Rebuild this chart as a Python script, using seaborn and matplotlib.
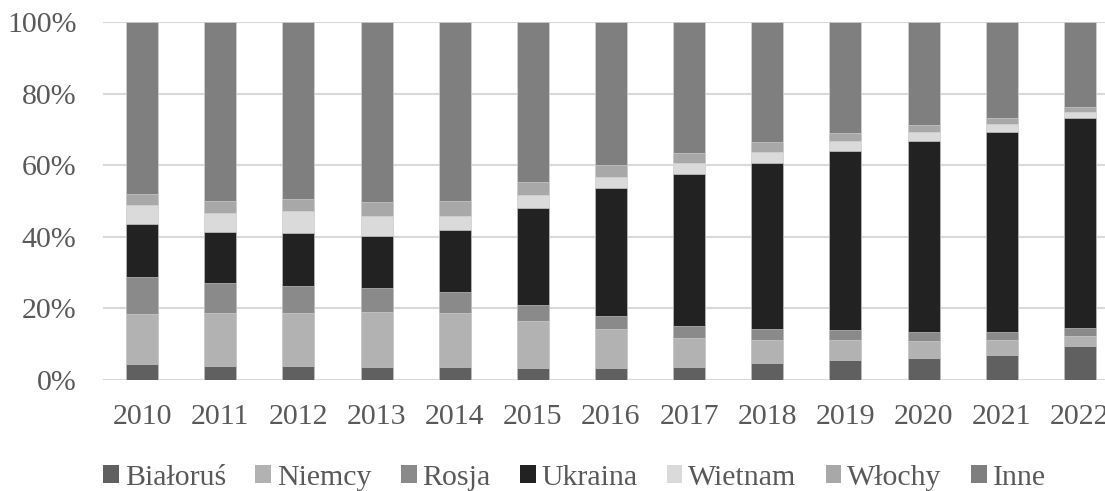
import matplotlib

matplotlib.use("Agg")
import matplotlib.pyplot as plt
import numpy as np
import pandas as pd
import seaborn as sns
from matplotlib.patches import Patch

years = [str(y) for y in range(2010, 2023)]
countries = ["Białoruś", "Niemcy", "Rosja", "Ukraina", "Wietnam", "Włochy", "Inne"]

# shares in percent
bialorus = [4.6, 4.0, 4.0, 3.7, 3.7, 3.4, 3.3, 3.7, 4.7, 5.6, 6.2, 7.0, 9.6]
niemcy = [13.9, 14.8, 14.8, 15.3, 15.1, 13.2, 10.9, 8.1, 6.5, 5.6, 4.8, 4.2, 2.7]
rosja = [10.4, 8.3, 7.5, 6.6, 5.8, 4.3, 3.7, 3.4, 3.0, 2.8, 2.5, 2.3, 2.2]
ukraina = [14.7, 14.3, 14.8, 14.7, 17.3, 27.2, 35.8, 42.3, 46.5, 50.1, 53.3, 55.9, 58.8]
wietnam = [5.3, 5.3, 6.2, 5.6, 4.0, 3.5, 3.0, 3.1, 3.1, 2.7, 2.6, 2.1, 1.6]
wlochy = [3.1, 3.4, 3.3, 3.8, 4.2, 3.8, 3.3, 2.8, 2.6, 2.3, 1.9, 1.8, 1.4]
inne = [48.0, 49.9, 49.4, 50.3, 49.9, 44.6, 40.0, 36.6, 33.6, 30.9, 28.7, 26.7, 23.7]

colors = ["#606060", "#b2b2b2", "#8a8a8a", "#222222", "#dadada", "#a8a8a8", "#7f7f7f"]
text_color = "#595959"

df = pd.DataFrame(
    dict(zip(countries, [bialorus, niemcy, rosja, ukraina, wietnam, wlochy, inne])),
    index=years,
)
cum = df.cumsum(axis=1)
cum = cum.div(cum["Inne"], axis=0) * 100

sns.set_style("white")
plt.rcParams["font.family"] = ["Liberation Serif", "DejaVu Serif"]

fig = plt.figure(figsize=(11.05, 4.91), dpi=100)
ax = fig.add_axes([103 / 1105, 111 / 491, 1016 / 1105, 358 / 491])

# stacked bars: draw cumulative totals from the top segment down
for name, color in reversed(list(zip(countries, colors))):
    sns.barplot(
        x=years, y=cum[name].values, color=color, width=0.41,
        edgecolor="#d8d8d8", linewidth=0.4, ax=ax, zorder=3,
    )

ax.set_ylim(0, 100)
ax.set_yticks(np.arange(0, 101, 20))
ax.set_yticklabels([f"{v}%" for v in range(0, 101, 20)])
ax.yaxis.grid(True, color="#d9d9d9", linewidth=1.5, zorder=0)
ax.set_axisbelow(True)
for s in ax.spines.values():
    s.set_visible(False)
ax.tick_params(axis="both", length=0, labelsize=21.5, labelcolor=text_color)
ax.tick_params(axis="y", pad=19)
ax.tick_params(axis="x", pad=17)
ax.set_xlabel("")
ax.set_ylabel("")

handles = [Patch(facecolor=c, edgecolor="none") for c in colors]
fig.legend(
    handles, countries, loc="center", bbox_to_anchor=(0.520, 0.027), ncol=7,
    frameon=False, fontsize=21.5, handlelength=0.53, handleheight=0.53,
    handletextpad=0.2, columnspacing=0.97, labelcolor=text_color,
)

fig.savefig("out.png", dpi=100)
